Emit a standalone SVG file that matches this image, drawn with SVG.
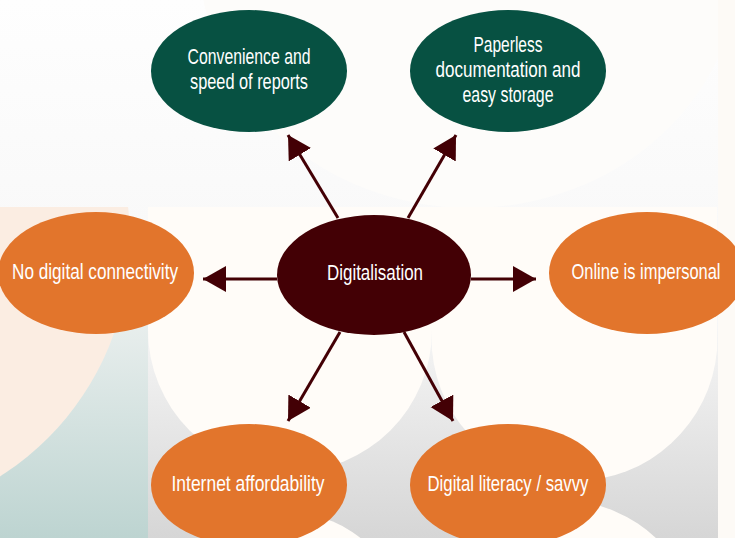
<svg xmlns="http://www.w3.org/2000/svg" width="735" height="538" viewBox="0 0 735 538">
<defs>
<linearGradient id="bg" x1="0" y1="0" x2="0" y2="1"><stop offset="0" stop-color="#fefefe"/><stop offset="1" stop-color="#f2f2f2"/></linearGradient>
<linearGradient id="teal" x1="0" y1="0" x2="0" y2="1"><stop offset="0" stop-color="#edf1f0"/><stop offset="1" stop-color="#bdd4d1"/></linearGradient>
<linearGradient id="gray" x1="0" y1="0" x2="0" y2="1"><stop offset="0" stop-color="#fafafa"/><stop offset="1" stop-color="#d6d6d6"/></linearGradient>
<clipPath id="leftclip"><rect x="0" y="207" width="148" height="331"/></clipPath>
<marker id="ah" markerUnits="userSpaceOnUse" markerWidth="24" markerHeight="27" refX="23" refY="13" orient="auto" viewBox="0 0 24 27"><path d="M0,0 L23,13 L0,26 z" fill="#430005"/></marker>
<style>
.green{fill:#075142}
.orange{fill:#e2752c}
.dark{fill:#430005}
text{font-family:"Liberation Sans",Arial,sans-serif;font-size:22px;fill:#ffffff;text-anchor:middle}
.conn line{stroke:#430005;stroke-width:3;marker-end:url(#ah)}
</style>
</defs>
<g id="background">
<rect x="0" y="0" width="735" height="538" fill="url(#bg)"/>
<ellipse cx="470" cy="-40" rx="270" ry="248" fill="#fdfcfa"/>
<rect x="0" y="300" width="148" height="238" fill="url(#teal)"/>
<circle cx="-150" cy="240" r="280" fill="#fbede2" clip-path="url(#leftclip)"/>
<rect x="148" y="300" width="570" height="238" fill="url(#gray)"/>
<path d="M148,207 H432 V330 A142,142 0 0 1 148,330 Z" fill="#fffcf8"/>
<path d="M432,207 H717 V350 A143,143 0 0 1 432,350 Z" fill="#fffcf8"/>
<circle cx="290" cy="625" r="112" fill="#fffcf8"/>
<circle cx="560" cy="640" r="140" fill="#fffcf8"/>
<rect x="718" y="0" width="17" height="538" fill="#fdfaf6"/>
</g>
<g id="connectors" class="conn">
<line x1="338" y1="218" x2="288" y2="135"/>
<line x1="408" y1="218" x2="456" y2="135"/>
<line x1="277" y1="279" x2="203" y2="279"/>
<line x1="471" y1="279" x2="536" y2="279"/>
<line x1="340" y1="332" x2="288" y2="421"/>
<line x1="404" y1="332" x2="453" y2="421"/>
</g>
<g id="convenience">
<ellipse class="green" cx="249" cy="71" rx="98" ry="61"/>
<text x="249" y="64" textLength="123" lengthAdjust="spacingAndGlyphs">Convenience and</text>
<text x="249" y="89" textLength="118" lengthAdjust="spacingAndGlyphs">speed of reports</text>
</g>
<g id="paperless">
<ellipse class="green" cx="508" cy="71" rx="98" ry="61"/>
<text x="508" y="52" textLength="69" lengthAdjust="spacingAndGlyphs">Paperless</text>
<text x="508" y="77" textLength="145" lengthAdjust="spacingAndGlyphs">documentation and</text>
<text x="508" y="102" textLength="91" lengthAdjust="spacingAndGlyphs">easy storage</text>
</g>
<g id="no-connectivity">
<ellipse class="orange" cx="96" cy="273" rx="98" ry="61"/>
<text x="95" y="279" textLength="166" lengthAdjust="spacingAndGlyphs">No digital connectivity</text>
</g>
<g id="digitalisation">
<ellipse class="dark" cx="374" cy="275" rx="97" ry="60"/>
<text x="375" y="280" textLength="96" lengthAdjust="spacingAndGlyphs">Digitalisation</text>
</g>
<g id="online">
<ellipse class="orange" cx="647" cy="273" rx="98" ry="61"/>
<text x="646" y="279" textLength="149" lengthAdjust="spacingAndGlyphs">Online is impersonal</text>
</g>
<g id="internet">
<ellipse class="orange" cx="249" cy="485" rx="98" ry="61"/>
<text x="248" y="491" textLength="153" lengthAdjust="spacingAndGlyphs">Internet affordability</text>
</g>
<g id="literacy">
<ellipse class="orange" cx="508" cy="485" rx="98" ry="61"/>
<text x="508" y="491" textLength="161" lengthAdjust="spacingAndGlyphs">Digital literacy / savvy</text>
</g>
</svg>
